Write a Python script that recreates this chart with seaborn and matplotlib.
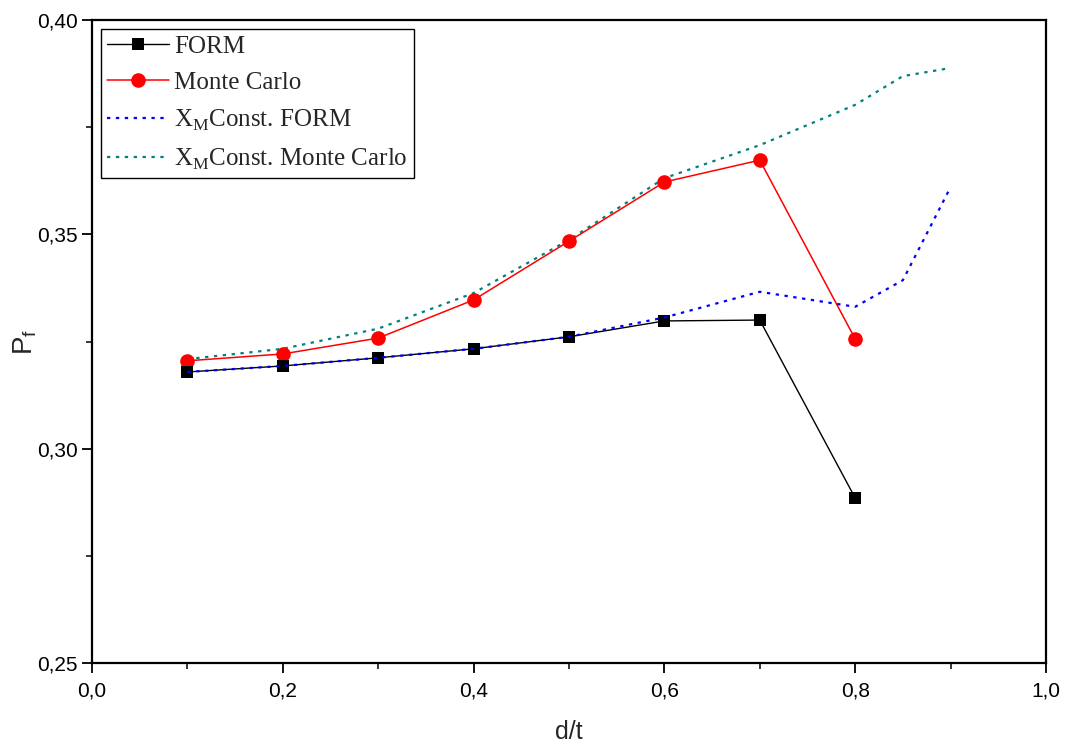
import numpy as np
import pandas as pd
import matplotlib
matplotlib.use("Agg")
import matplotlib.pyplot as plt
from matplotlib.ticker import MultipleLocator, FuncFormatter
import seaborn as sns

# Failure probability vs. relative defect depth d/t
dt_points = [0.1, 0.2, 0.3, 0.4, 0.5, 0.6, 0.7, 0.8]
pf_form = [0.3179, 0.3193, 0.3212, 0.3233, 0.3261, 0.3298, 0.3300, 0.2885]
pf_monte_carlo = [0.3205, 0.3221, 0.3258, 0.3347, 0.3484, 0.3622, 0.3673, 0.3256]

dt_const = [0.1, 0.2, 0.3, 0.4, 0.5, 0.6, 0.7, 0.8, 0.85, 0.9]
pf_const_form = [0.3179, 0.3193, 0.3212, 0.3233, 0.3261, 0.3306, 0.3366, 0.3331, 0.3393, 0.3610]
pf_const_mc = [0.3209, 0.3233, 0.3280, 0.3363, 0.3487, 0.3631, 0.3708, 0.3802, 0.3869, 0.3888]

labels = ["FORM", "Monte Carlo",
          r"X$_{\mathrm{M}}$Const. FORM", r"X$_{\mathrm{M}}$Const. Monte Carlo"]

sns.set_style("ticks")
plt.rcParams["font.family"] = ["Liberation Sans", "DejaVu Sans"]
plt.rcParams["mathtext.fontset"] = "custom"
plt.rcParams["mathtext.rm"] = "Liberation Serif"
plt.rcParams["mathtext.sf"] = "Liberation Sans"

fig = plt.figure(figsize=(10.66, 7.45), dpi=100)
ax = fig.add_axes([0.0863, 0.110, 0.8949, 0.8632])

df_form = pd.DataFrame({"dt": dt_points, "pf": pf_form})
df_mc = pd.DataFrame({"dt": dt_points, "pf": pf_monte_carlo})
df_cf = pd.DataFrame({"dt": dt_const, "pf": pf_const_form})
df_cmc = pd.DataFrame({"dt": dt_const, "pf": pf_const_mc})

sns.lineplot(data=df_cmc, x="dt", y="pf", ax=ax, color="#008080", lw=1.6,
             linestyle=(0, (1.5, 2.5)), label=labels[3], sort=False, zorder=2)
sns.lineplot(data=df_mc, x="dt", y="pf", ax=ax, color="#ff0000", lw=1.1,
             marker="o", markersize=10.5, markeredgewidth=0, label=labels[1],
             sort=False, zorder=3)
sns.lineplot(data=df_form, x="dt", y="pf", ax=ax, color="#000000", lw=1.0,
             marker="s", markersize=9, markeredgewidth=0, label=labels[0],
             sort=False, zorder=3)
sns.lineplot(data=df_cf, x="dt", y="pf", ax=ax, color="#0000ff", lw=1.6,
             linestyle=(0, (1.5, 2.5)), label=labels[2], sort=False, zorder=4)

ax.set_xlim(0.0, 1.0)
ax.set_ylim(0.25, 0.40)
ax.xaxis.set_major_locator(MultipleLocator(0.2))
ax.xaxis.set_minor_locator(MultipleLocator(0.1))
ax.yaxis.set_major_locator(MultipleLocator(0.05))
ax.yaxis.set_minor_locator(MultipleLocator(0.025))
ax.xaxis.set_major_formatter(FuncFormatter(lambda v, p: f"{v:.1f}".replace(".", ",")))
ax.yaxis.set_major_formatter(FuncFormatter(lambda v, p: f"{v:.2f}".replace(".", ",")))

for side in ["left", "bottom", "top", "right"]:
    ax.spines[side].set_visible(True)
    ax.spines[side].set_linewidth(1.6)
    ax.spines[side].set_color("black")

ax.tick_params(which="major", direction="out", length=7, width=1.3,
               labelsize=15, colors="black")
ax.tick_params(which="minor", direction="out", length=4.5, width=1.3)
ax.tick_params(axis="x", which="major", pad=6)
ax.tick_params(axis="y", which="major", pad=3)
ax.tick_params(top=False, right=False, which="both")

ax.set_xlabel("d/t", fontsize=18, labelpad=14)
ax.set_ylabel(r"P$_{\mathsf{f}}$", fontsize=20)
ax.yaxis.set_label_coords(-0.056, 0.5)

handles, lbls = ax.get_legend_handles_labels()
order = [lbls.index(l) for l in labels]
leg = ax.legend([handles[i] for i in order], [lbls[i] for i in order],
                loc="upper left", bbox_to_anchor=(0.009, 0.986),
                borderaxespad=0, frameon=True, fancybox=False,
                edgecolor="black", framealpha=1,
                prop={"family": "Liberation Serif", "size": 18},
                handlelength=2.5, handletextpad=0.2, labelspacing=0.55,
                borderpad=0.25)
leg.get_frame().set_linewidth(1.0)

fig.savefig("out.png", dpi=100)
